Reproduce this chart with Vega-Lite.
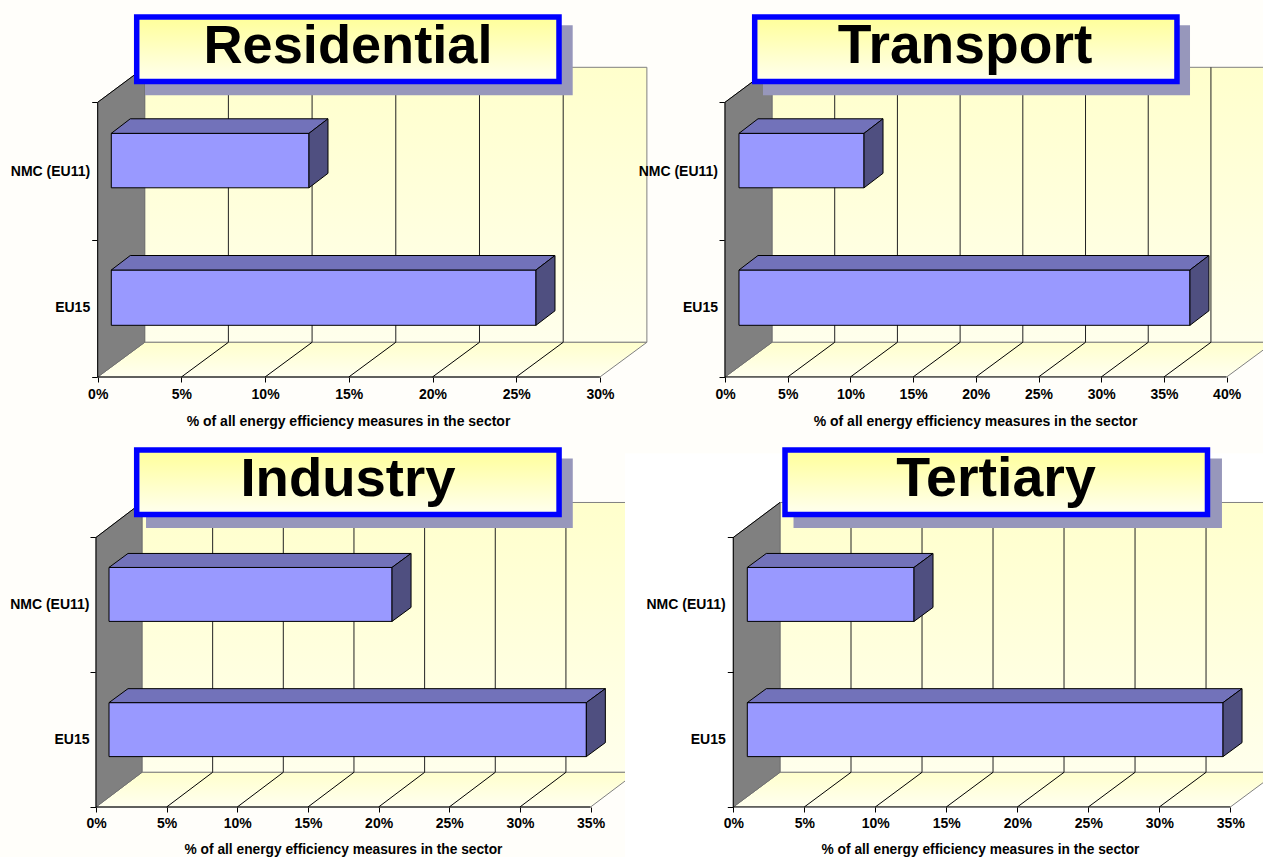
{"$schema":"https://vega.github.io/schema/vega-lite/v6.json","background":"#FFFEFA","padding":{"left":10,"top":14,"right":0,"bottom":0},"config":{"view":{"stroke":null},"axis":{"labelFont":"Liberation Sans","labelFontWeight":"bold","labelFontSize":14,"labelColor":"#000","titleFont":"Liberation Sans","titleFontWeight":"bold","titleFontSize":14,"titleColor":"#000","tickColor":"#000","grid":false,"domain":false,"labelOverlap":false,"labelFlush":false}},"bounds":"flush","align":"none","columns":2,"spacing":{"row":73,"column":67},"concat":[
{"width":561,"height":360,"encoding":{"x":{"field":"x","type":"quantitative","scale":{"domain":[-0.1016,33.411],"nice":false,"zero":false},"axis":{"values":[0,5,10,15,20,25,30],"labelExpr":"datum.value+'%'","title":"% of all energy efficiency measures in the sector","titleX":252,"titlePadding":13,"titleAlign":"center","tickSize":5,"labelPadding":5}},"y":{"field":"y","type":"quantitative","scale":{"domain":[0,2.6211],"nice":false,"zero":false},"axis":{"values":[0,1,2],"labels":false,"title":null,"tickSize":6,"offset":-1.7}}},"layer":[
{"data":{"values":[{"x":2.807,"x2":32.807,"y":0.2526,"y2":2.2548}]},"mark":{"type":"rect","stroke":"#808080","fill":{"gradient":"linear","x1":0,"y1":0,"x2":0,"y2":1,"stops":[{"offset":0,"color":"#FFFFCC"},{"offset":1,"color":"#FFFFEC"}]}},"encoding":{"x2":{"field":"x2"},"y2":{"field":"y2"}}},
{"data":{"values":[{"x":0,"x2":30,"y":0},{"x":2.807,"x2":32.807,"y":0.2526}]},"mark":{"type":"area","orient":"horizontal","stroke":"#808080","fill":{"gradient":"linear","x1":0,"y1":0,"x2":0,"y2":1,"stops":[{"offset":0,"color":"#FFFFCC"},{"offset":1,"color":"#FFFFF0"}]}},"encoding":{"x2":{"field":"x2"}}},
{"data":{"values":[{"x":0,"y":0,"y2":2},{"x":2.807,"y":0.2526,"y2":2.2548}]},"mark":{"type":"area","orient":"vertical","stroke":"#707070","fill":"#808080"},"encoding":{"y2":{"field":"y2"}}},
{"data":{"values":[{"x":7.807,"y":0.2526,"y2":2.2548},{"x":12.807,"y":0.2526,"y2":2.2548},{"x":17.807,"y":0.2526,"y2":2.2548},{"x":22.807,"y":0.2526,"y2":2.2548},{"x":27.807,"y":0.2526,"y2":2.2548}]},"mark":{"type":"rule","color":"#222"},"encoding":{"y2":{"field":"y2"}}},
{"data":{"values":[{"x":5,"x2":7.807,"y":0,"y2":0.2526},{"x":10,"x2":12.807,"y":0,"y2":0.2526},{"x":15,"x2":17.807,"y":0,"y2":0.2526},{"x":20,"x2":22.807,"y":0,"y2":0.2526},{"x":25,"x2":27.807,"y":0,"y2":0.2526},{"x":0,"x2":30,"y":0,"y2":0},{"x":0,"x2":0,"y":0,"y2":2},{"x":0,"x2":2.807,"y":2,"y2":2.2548}]},"mark":{"type":"rule","color":"#000"},"encoding":{"x2":{"field":"x2"},"y2":{"field":"y2"}}},
{"data":{"values":[{"category":"NMC (EU11)","value":11.81,"ylo":1.3775,"yhi":1.774},{"category":"EU15","value":25.37,"ylo":0.3764,"yhi":0.779}]},"mark":{"type":"rect","fill":"#9999FF","stroke":"#000","xOffset":13.6,"x2Offset":13.6},"encoding":{"x":{"field":"value","type":"quantitative"},"x2":{"datum":0},"y":{"field":"ylo","type":"quantitative"},"y2":{"field":"yhi"}}},
{"data":{"values":[{"category":"NMC (EU11)","x":0.812,"x2":12.622,"y":1.774},{"category":"NMC (EU11)","x":1.947,"x2":13.757,"y":1.88},{"category":"EU15","x":0.812,"x2":26.182,"y":0.779},{"category":"EU15","x":1.947,"x2":27.317,"y":0.8846}]},"mark":{"type":"area","orient":"horizontal","fill":"#7272BA","stroke":"#000"},"encoding":{"x2":{"field":"x2"},"detail":{"field":"category"}}},
{"data":{"values":[{"category":"NMC (EU11)","x":12.622,"y":1.3775,"y2":1.774},{"category":"NMC (EU11)","x":13.757,"y":1.483,"y2":1.88},{"category":"EU15","x":26.182,"y":0.3764,"y2":0.779},{"category":"EU15","x":27.317,"y":0.482,"y2":0.8846}]},"mark":{"type":"area","orient":"vertical","fill":"#4F4F80","stroke":"#000"},"encoding":{"y2":{"field":"y2"},"detail":{"field":"category"}}},
{"data":{"values":[{"x":0,"y":1.4904,"label":"NMC (EU11)"},{"x":0,"y":0.4997,"label":"EU15"}]},"mark":{"type":"text","align":"right","baseline":"middle","dx":-7.5,"font":"Liberation Sans","fontWeight":"bold","fontSize":14,"color":"#000"},"encoding":{"text":{"field":"label"}}},
{"data":{"values":[{"x":2.826,"x2":28.375,"y":2.051,"y2":2.5606}]},"mark":{"type":"rect","fill":"#9797BB"},"encoding":{"x2":{"field":"x2"},"y2":{"field":"y2"}}},
{"data":{"values":[{"x":2.33,"x2":27.557,"y":2.1507,"y2":2.621}]},"mark":{"type":"rect","stroke":"#0000FF","strokeWidth":5.5,"fill":{"gradient":"linear","x1":0,"y1":0,"x2":0,"y2":1,"stops":[{"offset":0,"color":"#FFFF99"},{"offset":1,"color":"#FFFFF0"}]}},"encoding":{"x2":{"field":"x2"},"y2":{"field":"y2"}}},
{"data":{"values":[{"x":14.95,"y":2.284,"label":"Residential"}]},"mark":{"type":"text","align":"center","baseline":"alphabetic","font":"Liberation Sans","fontWeight":"bold","fontSize":54.2,"color":"#000"},"encoding":{"text":{"field":"label"}}}
]},
{"width":539,"height":360,"encoding":{"x":{"field":"x","type":"quantitative","scale":{"domain":[-0.0797,42.9],"nice":false,"zero":false},"axis":{"values":[0,5,10,15,20,25,30,35,40],"labelExpr":"datum.value+'%'","title":"% of all energy efficiency measures in the sector","titleX":251,"titlePadding":13,"titleAlign":"center","tickSize":5,"labelPadding":5}},"y":{"field":"y","type":"quantitative","scale":{"domain":[0,2.6211],"nice":false,"zero":false},"axis":{"values":[0,1,2],"labels":false,"title":null,"tickSize":6,"offset":-1}}},"layer":[
{"data":{"values":[{"x":3.748,"x2":43.748,"y":0.2526,"y2":2.2548}]},"mark":{"type":"rect","clip":true,"stroke":"#808080","fill":{"gradient":"linear","x1":0,"y1":0,"x2":0,"y2":1,"stops":[{"offset":0,"color":"#FFFFCC"},{"offset":1,"color":"#FFFFEC"}]}},"encoding":{"x2":{"field":"x2"},"y2":{"field":"y2"}}},
{"data":{"values":[{"x":0,"x2":40,"y":0},{"x":3.748,"x2":43.748,"y":0.2526}]},"mark":{"type":"area","clip":true,"orient":"horizontal","stroke":"#808080","fill":{"gradient":"linear","x1":0,"y1":0,"x2":0,"y2":1,"stops":[{"offset":0,"color":"#FFFFCC"},{"offset":1,"color":"#FFFFF0"}]}},"encoding":{"x2":{"field":"x2"}}},
{"data":{"values":[{"x":0,"y":0,"y2":2},{"x":3.748,"y":0.2526,"y2":2.2548}]},"mark":{"type":"area","orient":"vertical","stroke":"#707070","fill":"#808080"},"encoding":{"y2":{"field":"y2"}}},
{"data":{"values":[{"x":8.748,"y":0.2526,"y2":2.2548},{"x":13.748,"y":0.2526,"y2":2.2548},{"x":18.748,"y":0.2526,"y2":2.2548},{"x":23.748,"y":0.2526,"y2":2.2548},{"x":28.748,"y":0.2526,"y2":2.2548},{"x":33.748,"y":0.2526,"y2":2.2548},{"x":38.748,"y":0.2526,"y2":2.2548}]},"mark":{"type":"rule","color":"#222"},"encoding":{"y2":{"field":"y2"}}},
{"data":{"values":[{"x":5,"x2":8.748,"y":0,"y2":0.2526},{"x":10,"x2":13.748,"y":0,"y2":0.2526},{"x":15,"x2":18.748,"y":0,"y2":0.2526},{"x":20,"x2":23.748,"y":0,"y2":0.2526},{"x":25,"x2":28.748,"y":0,"y2":0.2526},{"x":30,"x2":33.748,"y":0,"y2":0.2526},{"x":35,"x2":38.748,"y":0,"y2":0.2526},{"x":0,"x2":40,"y":0,"y2":0},{"x":0,"x2":0,"y":0,"y2":2},{"x":0,"x2":3.748,"y":2,"y2":2.2548}]},"mark":{"type":"rule","color":"#000"},"encoding":{"x2":{"field":"x2"},"y2":{"field":"y2"}}},
{"data":{"values":[{"category":"NMC (EU11)","value":9.97,"ylo":1.3775,"yhi":1.774},{"category":"EU15","value":35.96,"ylo":0.3764,"yhi":0.779}]},"mark":{"type":"rect","fill":"#9999FF","stroke":"#000","xOffset":14,"x2Offset":14},"encoding":{"x":{"field":"value","type":"quantitative"},"x2":{"datum":0},"y":{"field":"ylo","type":"quantitative"},"y2":{"field":"yhi"}}},
{"data":{"values":[{"category":"NMC (EU11)","x":1.116,"x2":11.086,"y":1.774},{"category":"NMC (EU11)","x":2.631,"x2":12.601,"y":1.88},{"category":"EU15","x":1.116,"x2":37.076,"y":0.779},{"category":"EU15","x":2.631,"x2":38.591,"y":0.8846}]},"mark":{"type":"area","orient":"horizontal","fill":"#7272BA","stroke":"#000"},"encoding":{"x2":{"field":"x2"},"detail":{"field":"category"}}},
{"data":{"values":[{"category":"NMC (EU11)","x":11.086,"y":1.3775,"y2":1.774},{"category":"NMC (EU11)","x":12.601,"y":1.483,"y2":1.88},{"category":"EU15","x":37.076,"y":0.3764,"y2":0.779},{"category":"EU15","x":38.591,"y":0.482,"y2":0.8846}]},"mark":{"type":"area","orient":"vertical","fill":"#4F4F80","stroke":"#000"},"encoding":{"y2":{"field":"y2"},"detail":{"field":"category"}}},
{"data":{"values":[{"x":0,"y":1.4904,"label":"NMC (EU11)"},{"x":0,"y":0.4997,"label":"EU15"}]},"mark":{"type":"text","align":"right","baseline":"middle","dx":-7,"font":"Liberation Sans","fontWeight":"bold","fontSize":14,"color":"#000"},"encoding":{"text":{"field":"label"}}},
{"data":{"values":[{"x":3.03,"x2":37.08,"y":2.051,"y2":2.5606}]},"mark":{"type":"rect","fill":"#9797BB"},"encoding":{"x2":{"field":"x2"},"y2":{"field":"y2"}}},
{"data":{"values":[{"x":2.368,"x2":36.04,"y":2.1507,"y2":2.621}]},"mark":{"type":"rect","stroke":"#0000FF","strokeWidth":5.5,"fill":{"gradient":"linear","x1":0,"y1":0,"x2":0,"y2":1,"stops":[{"offset":0,"color":"#FFFF99"},{"offset":1,"color":"#FFFFF0"}]}},"encoding":{"x2":{"field":"x2"},"y2":{"field":"y2"}}},
{"data":{"values":[{"x":19.14,"y":2.284,"label":"Transport"}]},"mark":{"type":"text","align":"center","baseline":"alphabetic","font":"Liberation Sans","fontWeight":"bold","fontSize":55.2,"color":"#000"},"encoding":{"text":{"field":"label"}}}
]},
{"width":561,"height":357,"encoding":{"x":{"field":"x","type":"quantitative","scale":{"domain":[0,39.7],"nice":false,"zero":false},"axis":{"values":[0,5,10,15,20,25,30,35],"labelExpr":"datum.value+'%'","title":"% of all energy efficiency measures in the sector","titleFontSize":13.75,"titleX":247,"titlePadding":12,"titleAlign":"center","tickSize":5,"labelPadding":4}},"y":{"field":"y","type":"quantitative","scale":{"domain":[0,2.6489],"nice":false,"zero":false},"axis":{"values":[0,1,2],"labels":false,"title":null,"tickSize":6}}},"layer":[
{"data":{"values":[{"x":3.255,"x2":38.255,"y":0.2573,"y2":2.2595}]},"mark":{"type":"rect","stroke":"#808080","fill":{"gradient":"linear","x1":0,"y1":0,"x2":0,"y2":1,"stops":[{"offset":0,"color":"#FFFFCC"},{"offset":1,"color":"#FFFFEC"}]}},"encoding":{"x2":{"field":"x2"},"y2":{"field":"y2"}}},
{"data":{"values":[{"x":0,"x2":35,"y":0},{"x":3.255,"x2":38.255,"y":0.2573}]},"mark":{"type":"area","orient":"horizontal","stroke":"#808080","fill":{"gradient":"linear","x1":0,"y1":0,"x2":0,"y2":1,"stops":[{"offset":0,"color":"#FFFFCC"},{"offset":1,"color":"#FFFFF0"}]}},"encoding":{"x2":{"field":"x2"}}},
{"data":{"values":[{"x":0,"y":0,"y2":2},{"x":3.255,"y":0.2573,"y2":2.2595}]},"mark":{"type":"area","orient":"vertical","stroke":"#707070","fill":"#808080"},"encoding":{"y2":{"field":"y2"}}},
{"data":{"values":[{"x":8.255,"y":0.2573,"y2":2.2595},{"x":13.255,"y":0.2573,"y2":2.2595},{"x":18.255,"y":0.2573,"y2":2.2595},{"x":23.255,"y":0.2573,"y2":2.2595},{"x":28.255,"y":0.2573,"y2":2.2595},{"x":33.255,"y":0.2573,"y2":2.2595}]},"mark":{"type":"rule","color":"#222"},"encoding":{"y2":{"field":"y2"}}},
{"data":{"values":[{"x":5,"x2":8.255,"y":0,"y2":0.2573},{"x":10,"x2":13.255,"y":0,"y2":0.2573},{"x":15,"x2":18.255,"y":0,"y2":0.2573},{"x":20,"x2":23.255,"y":0,"y2":0.2573},{"x":25,"x2":28.255,"y":0,"y2":0.2573},{"x":30,"x2":33.255,"y":0,"y2":0.2573},{"x":0,"x2":35,"y":0,"y2":0},{"x":0,"x2":0,"y":0,"y2":2},{"x":0,"x2":3.255,"y":2,"y2":2.2595}]},"mark":{"type":"rule","color":"#000"},"encoding":{"x2":{"field":"x2"},"y2":{"field":"y2"}}},
{"data":{"values":[{"category":"NMC (EU11)","value":20.03,"ylo":1.3771,"yhi":1.7775},{"category":"EU15","value":33.78,"ylo":0.3738,"yhi":0.7744}]},"mark":{"type":"rect","fill":"#9999FF","stroke":"#000","xOffset":13,"x2Offset":13},"encoding":{"x":{"field":"value","type":"quantitative"},"x2":{"datum":0},"y":{"field":"ylo","type":"quantitative"},"y2":{"field":"yhi"}}},
{"data":{"values":[{"category":"NMC (EU11)","x":0.92,"x2":20.95,"y":1.7775},{"category":"NMC (EU11)","x":2.265,"x2":22.295,"y":1.8813},{"category":"EU15","x":0.92,"x2":34.7,"y":0.7744},{"category":"EU15","x":2.265,"x2":36.045,"y":0.878}]},"mark":{"type":"area","orient":"horizontal","fill":"#7272BA","stroke":"#000"},"encoding":{"x2":{"field":"x2"},"detail":{"field":"category"}}},
{"data":{"values":[{"category":"NMC (EU11)","x":20.95,"y":1.3771,"y2":1.7775},{"category":"NMC (EU11)","x":22.295,"y":1.4809,"y2":1.8813},{"category":"EU15","x":34.7,"y":0.3738,"y2":0.7744},{"category":"EU15","x":36.045,"y":0.4776,"y2":0.878}]},"mark":{"type":"area","orient":"vertical","fill":"#4F4F80","stroke":"#000"},"encoding":{"y2":{"field":"y2"},"detail":{"field":"category"}}},
{"data":{"values":[{"x":0,"y":1.4966,"label":"NMC (EU11)"},{"x":0,"y":0.4946,"label":"EU15"}]},"mark":{"type":"text","align":"right","baseline":"middle","dx":-6.5,"font":"Liberation Sans","fontWeight":"bold","fontSize":14,"color":"#000"},"encoding":{"text":{"field":"label"}}},
{"data":{"values":[{"x":3.54,"x2":33.74,"y":2.0705,"y2":2.5858}]},"mark":{"type":"rect","fill":"#9797BB"},"encoding":{"x2":{"field":"x2"},"y2":{"field":"y2"}}},
{"data":{"values":[{"x":2.88,"x2":32.77,"y":2.1706,"y2":2.6489}]},"mark":{"type":"rect","stroke":"#0000FF","strokeWidth":5.5,"fill":{"gradient":"linear","x1":0,"y1":0,"x2":0,"y2":1,"stops":[{"offset":0,"color":"#FFFF99"},{"offset":1,"color":"#FFFFF0"}]}},"encoding":{"x2":{"field":"x2"},"y2":{"field":"y2"}}},
{"data":{"values":[{"x":17.83,"y":2.306,"label":"Industry"}]},"mark":{"type":"text","align":"center","baseline":"alphabetic","font":"Liberation Sans","fontWeight":"bold","fontSize":54.5,"color":"#000"},"encoding":{"text":{"field":"label"}}}
]},
{"width":539,"height":357,"encoding":{"x":{"field":"x","type":"quantitative","scale":{"domain":[-0.655,37.3],"nice":false,"zero":false},"axis":{"zindex":1,"values":[0,5,10,15,20,25,30,35],"labelExpr":"datum.value+'%'","title":"% of all energy efficiency measures in the sector","titleFontSize":13.75,"titleX":256,"titlePadding":12,"titleAlign":"center","tickSize":5,"labelPadding":4}},"y":{"field":"y","type":"quantitative","scale":{"domain":[0,2.6489],"nice":false,"zero":false},"axis":{"zindex":1,"values":[0,1,2],"labels":false,"title":null,"tickSize":6,"offset":-9.3}}},"layer":[
{"data":{"values":[{"x":-7.627,"x2":37.3,"y":-0.373,"y2":2.623}]},"mark":{"type":"rect","fill":"#FFFFFF"},"encoding":{"x2":{"field":"x2"},"y2":{"field":"y2"}}},
{"data":{"values":[{"x":3.289,"x2":38.289,"y":0.2573,"y2":2.2595}]},"mark":{"type":"rect","clip":true,"stroke":"#808080","fill":{"gradient":"linear","x1":0,"y1":0,"x2":0,"y2":1,"stops":[{"offset":0,"color":"#FFFFCC"},{"offset":1,"color":"#FFFFEC"}]}},"encoding":{"x2":{"field":"x2"},"y2":{"field":"y2"}}},
{"data":{"values":[{"x":0,"x2":35,"y":0},{"x":3.289,"x2":38.289,"y":0.2573}]},"mark":{"type":"area","clip":true,"orient":"horizontal","stroke":"#808080","fill":{"gradient":"linear","x1":0,"y1":0,"x2":0,"y2":1,"stops":[{"offset":0,"color":"#FFFFCC"},{"offset":1,"color":"#FFFFF0"}]}},"encoding":{"x2":{"field":"x2"}}},
{"data":{"values":[{"x":0,"y":0,"y2":2},{"x":3.289,"y":0.2573,"y2":2.2595}]},"mark":{"type":"area","orient":"vertical","stroke":"#707070","fill":"#808080"},"encoding":{"y2":{"field":"y2"}}},
{"data":{"values":[{"x":8.289,"y":0.2573,"y2":2.2595},{"x":13.289,"y":0.2573,"y2":2.2595},{"x":18.289,"y":0.2573,"y2":2.2595},{"x":23.289,"y":0.2573,"y2":2.2595},{"x":28.289,"y":0.2573,"y2":2.2595},{"x":33.289,"y":0.2573,"y2":2.2595}]},"mark":{"type":"rule","color":"#222"},"encoding":{"y2":{"field":"y2"}}},
{"data":{"values":[{"x":5,"x2":8.289,"y":0,"y2":0.2573},{"x":10,"x2":13.289,"y":0,"y2":0.2573},{"x":15,"x2":18.289,"y":0,"y2":0.2573},{"x":20,"x2":23.289,"y":0,"y2":0.2573},{"x":25,"x2":28.289,"y":0,"y2":0.2573},{"x":30,"x2":33.289,"y":0,"y2":0.2573},{"x":0,"x2":35,"y":0,"y2":0},{"x":0,"x2":0,"y":0,"y2":2},{"x":0,"x2":3.289,"y":2,"y2":2.2595}]},"mark":{"type":"rule","color":"#000"},"encoding":{"x2":{"field":"x2"},"y2":{"field":"y2"}}},
{"data":{"values":[{"category":"NMC (EU11)","value":11.74,"ylo":1.3771,"yhi":1.7775},{"category":"EU15","value":33.5,"ylo":0.3738,"yhi":0.7744}]},"mark":{"type":"rect","fill":"#9999FF","stroke":"#000","xOffset":14,"x2Offset":14},"encoding":{"x":{"field":"value","type":"quantitative"},"x2":{"datum":0},"y":{"field":"ylo","type":"quantitative"},"y2":{"field":"yhi"}}},
{"data":{"values":[{"category":"NMC (EU11)","x":0.986,"x2":12.726,"y":1.7775},{"category":"NMC (EU11)","x":2.324,"x2":14.064,"y":1.8813},{"category":"EU15","x":0.986,"x2":34.486,"y":0.7744},{"category":"EU15","x":2.324,"x2":35.824,"y":0.878}]},"mark":{"type":"area","orient":"horizontal","fill":"#7272BA","stroke":"#000"},"encoding":{"x2":{"field":"x2"},"detail":{"field":"category"}}},
{"data":{"values":[{"category":"NMC (EU11)","x":12.726,"y":1.3771,"y2":1.7775},{"category":"NMC (EU11)","x":14.064,"y":1.4809,"y2":1.8813},{"category":"EU15","x":34.486,"y":0.3738,"y2":0.7744},{"category":"EU15","x":35.824,"y":0.4776,"y2":0.878}]},"mark":{"type":"area","orient":"vertical","fill":"#4F4F80","stroke":"#000"},"encoding":{"y2":{"field":"y2"},"detail":{"field":"category"}}},
{"data":{"values":[{"x":0,"y":1.4966,"label":"NMC (EU11)"},{"x":0,"y":0.4946,"label":"EU15"}]},"mark":{"type":"text","align":"right","baseline":"middle","dx":-7.5,"font":"Liberation Sans","fontWeight":"bold","fontSize":14,"color":"#000"},"encoding":{"text":{"field":"label"}}},
{"data":{"values":[{"x":4.24,"x2":34.41,"y":2.0705,"y2":2.5858}]},"mark":{"type":"rect","fill":"#9797BB"},"encoding":{"x2":{"field":"x2"},"y2":{"field":"y2"}}},
{"data":{"values":[{"x":3.641,"x2":33.39,"y":2.1706,"y2":2.6489}]},"mark":{"type":"rect","stroke":"#0000FF","strokeWidth":5.5,"fill":{"gradient":"linear","x1":0,"y1":0,"x2":0,"y2":1,"stops":[{"offset":0,"color":"#FFFF99"},{"offset":1,"color":"#FFFFF0"}]}},"encoding":{"x2":{"field":"x2"},"y2":{"field":"y2"}}},
{"data":{"values":[{"x":18.5,"y":2.306,"label":"Tertiary"}]},"mark":{"type":"text","align":"center","baseline":"alphabetic","font":"Liberation Sans","fontWeight":"bold","fontSize":55.5,"color":"#000"},"encoding":{"text":{"field":"label"}}}
]}
]}
